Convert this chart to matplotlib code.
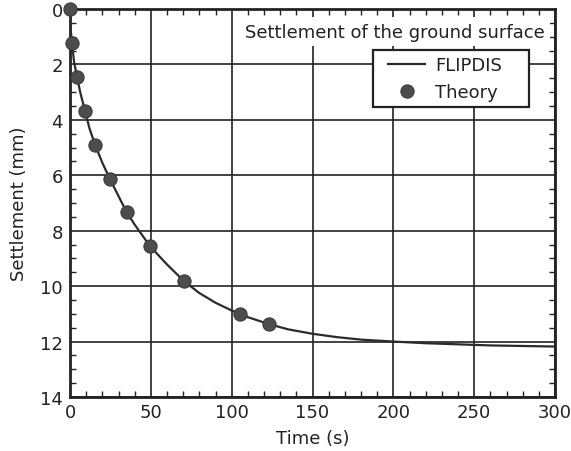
import numpy as np
import matplotlib
matplotlib.use('Agg')
import matplotlib.pyplot as plt
from matplotlib.patches import Rectangle
from matplotlib.ticker import MultipleLocator

plt.rcParams['font.family'] = ['DejaVu Sans']

# FLIPDIS settlement history (s, mm)
flip_time = [0, 0.3, 1.2, 2.5, 4.3, 6.5, 9.3, 12, 15.5, 20, 24.7, 30, 35, 40,
             49.5, 60, 70.5, 80, 90, 100, 110, 123, 135, 150, 165, 180, 200,
             220, 240, 260, 280, 300]
flip_settle = [0, 0.66, 1.23, 1.9, 2.45, 3.05, 3.68, 4.3, 4.9, 5.55, 6.14,
               6.75, 7.33, 7.78, 8.56, 9.22, 9.82, 10.25, 10.6, 10.88, 11.12,
               11.37, 11.56, 11.72, 11.84, 11.93, 12.0, 12.06, 12.1, 12.14,
               12.16, 12.18]

# analytical solution
theory_time = [0, 1.2, 4.3, 9.3, 15.5, 24.7, 35, 49.5, 70.5, 105, 123]
theory_settle = [0, 1.23, 2.45, 3.68, 4.9, 6.14, 7.33, 8.56, 9.82, 11.02, 11.37]

FS = 13
INK = '#222222'

fig = plt.figure(figsize=(5.71, 4.52), dpi=100)
ax = fig.add_axes([0.1226, 0.1195, 0.8494, 0.8585])

line, = ax.plot(flip_time, flip_settle, color='#2b2b2b', linewidth=1.6, zorder=3)
pts, = ax.plot(theory_time, theory_settle, linestyle='None', marker='o',
               markersize=9.5, markerfacecolor='#4d4d4d', markeredgecolor='#3a3a3a',
               markeredgewidth=0.8, zorder=4, clip_on=False)

ax.set_xlim(0, 300)
ax.set_ylim(14, 0)
ax.xaxis.set_major_locator(MultipleLocator(50))
ax.xaxis.set_minor_locator(MultipleLocator(10))
ax.yaxis.set_major_locator(MultipleLocator(2))
ax.yaxis.set_minor_locator(MultipleLocator(0.5))
ax.grid(True, which='major', color=INK, linewidth=1.2)
ax.set_axisbelow(True)
ax.tick_params(which='major', length=0, labelsize=FS, pad=4, colors=INK)
ax.tick_params(axis='y', which='major', pad=5)
ax.tick_params(which='minor', direction='in', length=4, width=1.0,
               top=True, right=True, color=INK)
for sp in ax.spines.values():
    sp.set_linewidth(2.0)
    sp.set_color(INK)

ax.set_xlabel("Time (s)", fontsize=FS, color=INK, labelpad=6)
ax.set_ylabel("Settlement (mm)", fontsize=FS, color=INK, labelpad=9)

ax.text(0.979, 0.941, "Settlement of the ground surface", transform=ax.transAxes,
        ha='right', va='center', fontsize=FS, color=INK, zorder=5,
        bbox=dict(boxstyle='square,pad=0.3', facecolor='white', edgecolor='none'))

# legend box drawn separately so it can be wider than its entries
ax.add_patch(Rectangle((0.625, 0.747), 0.321, 0.147, transform=ax.transAxes,
                       facecolor='white', edgecolor=INK, linewidth=1.6,
                       zorder=5, clip_on=False))
leg = ax.legend([line, pts], ["FLIPDIS", "Theory"], loc='upper left',
                bbox_to_anchor=(0.656, 0.878), fontsize=FS, frameon=False,
                borderpad=0, borderaxespad=0, handlelength=2.05,
                handletextpad=0.55, labelspacing=0.5)
for t in leg.get_texts():
    t.set_color(INK)
leg.set_zorder(6)

fig.savefig("out.png", dpi=100)
